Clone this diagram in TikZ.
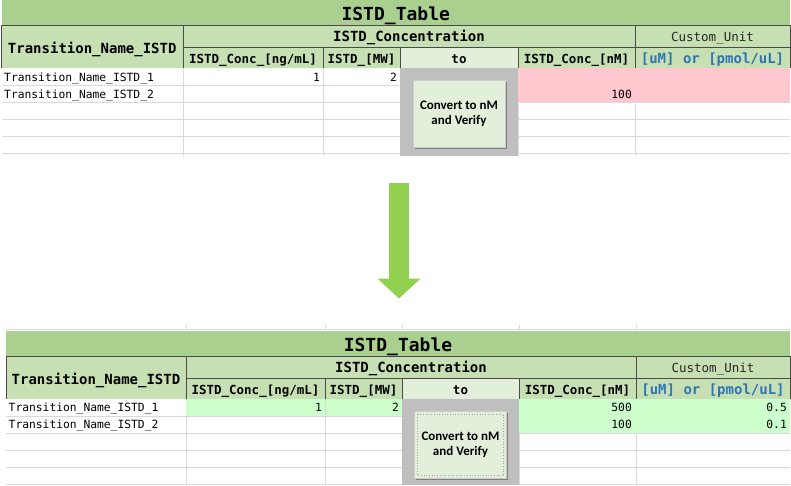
\documentclass[tikz,border=0pt]{standalone}
\usepackage{fontspec}
\setmainfont{Carlito}
\newfontfamily\monofam{DejaVu Sans Mono}
\newfontfamily\btnfam{Carlito}
\usetikzlibrary{arrows.meta,calc}
\definecolor{titlegreen}{HTML}{A9D08E}
\definecolor{headgreen}{HTML}{C6E0B4}
\definecolor{togreen}{HTML}{E2EFDA}
\definecolor{pinkfill}{HTML}{FFC7CE}
\definecolor{okgreen}{HTML}{CCFFCC}
\definecolor{blockgray}{HTML}{BFBFBF}
\definecolor{gridgray}{HTML}{D9D9D9}
\definecolor{hdrdark}{HTML}{4A4A4A}
\definecolor{unitblue}{HTML}{2F75B5}
\definecolor{btnface}{HTML}{E2EFDA}
\definecolor{btnshadow}{HTML}{7F7F7F}
\definecolor{arrowgreen}{HTML}{92D050}
\tikzset{
  gridline/.style={draw=gridgray, line width=0.8pt},
  hdrline/.style={draw=hdrdark, line width=0.9pt},
  titletext/.style={font=\monofam\bfseries\fontsize{18}{20}\selectfont, inner sep=0pt, anchor=base},
  hdrtext/.style={font=\monofam\bfseries\fontsize{14}{16}\selectfont, inner sep=0pt, anchor=base},
  subtext/.style={font=\monofam\bfseries\fontsize{12.5}{14}\selectfont, inner sep=0pt, anchor=base},
  plaintext/.style={font=\monofam\fontsize{12.5}{14}\selectfont, inner sep=0pt, anchor=base, text=black!85},
  unittext/.style={font=\monofam\bfseries\fontsize{14}{16}\selectfont, text=unitblue, inner sep=0pt, anchor=base},
  datatext/.style={font=\monofam\fontsize{11.3}{13}\selectfont, inner sep=0pt},
  btnbox/.style={fill=btnface, draw=gray!40, line width=0.6pt,
    minimum width=92pt, minimum height=66.5pt, inner sep=0pt, align=center,
    font=\btnfam\bfseries\fontsize{13}{15}\selectfont,
    preaction={fill=btnshadow, transform canvas={shift={(1.6pt,-1.6pt)}}}},
}
% #1 name prefix, #2 y offset, #3 L, #4 A, #5 B, #6 C, #7 D, #8 E, #9 grid bottom (relative)
\newcommand\istdtable[9]{%
  \begin{scope}[shift={(0,#2)}]
    \foreach \k in {1,...,5} \draw[gridline] (#3,{68+17*\k}) -- (790,{68+17*\k});
    \foreach \xx in {#4,#5,#6,#7,#8} \draw[gridline] (\xx,68) -- (\xx,#9);
    \fill[titlegreen] (#3,0) rectangle (790,25);
    \fill[headgreen] (#3,25) rectangle (790,68);
    \fill[togreen] (#6,47) rectangle (#7,68);
    \draw[hdrline] (#3,25) -- (790,25) (#4,47) -- (790,47)
      (#3,25) -- (#3,68) (#4,25) -- (#4,68) (#5,47) -- (#5,68)
      (#6,47) -- (#6,68) (#7,47) -- (#7,68) (#8,25) -- (#8,68) (790,25) -- (790,68);
    \fill[blockgray] (#6,68) rectangle (#7,#9);
    \node[titletext] (#1title) at ({(#3+790)/2},20.5) {ISTD\_Table};
    \node[hdrtext] (#1trans) at ({(#3+#4)/2},53) {Transition\_Name\_ISTD};
    \node[hdrtext] (#1conc) at ({(#4+#8)/2},41.5) {ISTD\_Concentration};
    \node[plaintext] (#1cust) at ({(#8+790)/2},41.5) {Custom\_Unit};
    \node[subtext] (#1ng) at ({(#4+#5)/2},63) {ISTD\_Conc\_[ng/mL]};
    \node[subtext] (#1mw) at ({(#5+#6)/2},63) {ISTD\_[MW]};
    \node[subtext] (#1to) at ({(#6+#7)/2},63) {to};
    \node[subtext] (#1nm) at ({(#7+#8)/2},63) {ISTD\_Conc\_[nM]};
    \node[unittext] (#1unit) at ({(#8+790)/2},63.5) {[uM] or [pmol/uL]};
    \node[btnbox] (#1btn) at ({(#6+#7)/2},{68+46}) {Convert to nM\\and Verify};
  \end{scope}%
}
\begin{document}
\begin{tikzpicture}[x=1pt,y=-1pt]
\useasboundingbox (0,0) rectangle (791,485);
\fill[white] (0,0) rectangle (791,485);

% ---------- top table ----------
\istdtable{t}{0}{1.5}{183}{323}{400}{518}{635}{155.5}
\fill[pinkfill] (518,68) rectangle (790,102);
\node[datatext, anchor=base west] (tr1) at (4,81.5) {Transition\_Name\_ISTD\_1};
\node[datatext, anchor=base west] (tr2) at (4,98.5) {Transition\_Name\_ISTD\_2};
\node[datatext, anchor=base east] (tv1) at (320,81.5) {1};
\node[datatext, anchor=base east] (tv2) at (397,81.5) {2};
\node[datatext, anchor=base east] (tv3) at (632,98.5) {100};

% ---------- arrow ----------
\coordinate (arrS) at (399,183);
\coordinate (arrE) at (399,298.5);
\draw[arrowgreen, line width=20pt, -{Triangle[width=42pt,length=20pt]}] (arrS) -- (arrE);

% ---------- remnants of grid above bottom table ----------
\draw[gridline] (6,329) -- (790,329);
\foreach \xx in {186,325,402,519,636} \draw[gridline] (\xx,325) -- (\xx,330);

% ---------- bottom table ----------
\istdtable{b}{331}{6}{186}{325}{402}{519}{636}{154}
\fill[okgreen] (186,399) rectangle (402,416);
\fill[okgreen] (519,399) rectangle (790,433);
\draw[gridline] (325,399) -- (325,416);
\draw[gray!70, dotted, line width=0.7pt] ($(bbtn.north west)+(3,3)$) rectangle ($(bbtn.south east)+(-3,-3)$);
\node[datatext, anchor=base west] (br1) at (8.5,411.5) {Transition\_Name\_ISTD\_1};
\node[datatext, anchor=base west] (br2) at (8.5,428.5) {Transition\_Name\_ISTD\_2};
\node[datatext, anchor=base east] (bv1) at (322,411.5) {1};
\node[datatext, anchor=base east] (bv2) at (399,411.5) {2};
\node[datatext, anchor=base east] (bv3) at (632,411.5) {500};
\node[datatext, anchor=base east] (bv4) at (787,411.5) {0.5};
\node[datatext, anchor=base east] (bv5) at (632,428.5) {100};
\node[datatext, anchor=base east] (bv6) at (787,428.5) {0.1};
\end{tikzpicture}
\end{document}
